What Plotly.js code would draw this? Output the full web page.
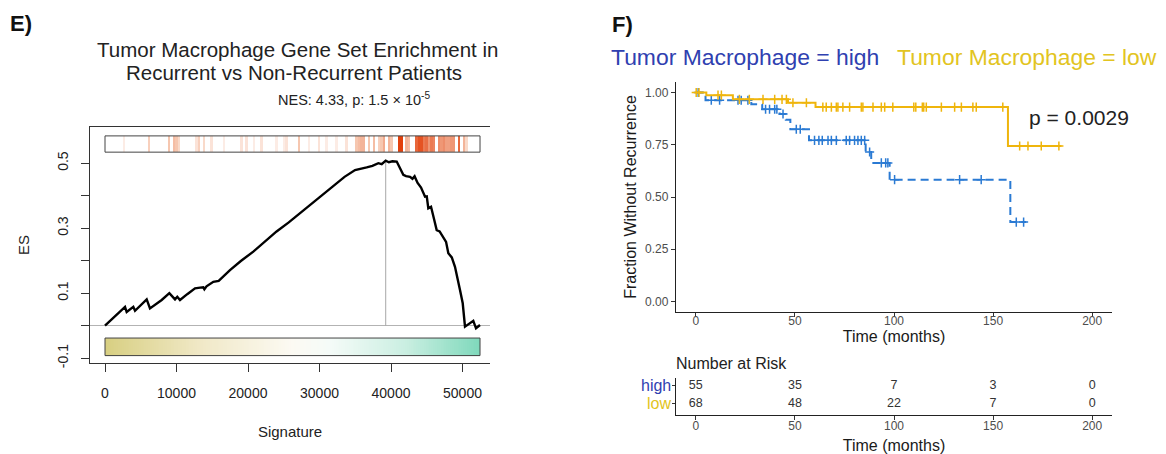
<!DOCTYPE html>
<html><head><meta charset="utf-8">
<script src="https://cdn.plot.ly/plotly-3.0.1.min.js"></script>
<style>html,body{margin:0;padding:0;background:#fff;} #chart{width:1166px;height:454px;}</style>
</head><body><div id="chart"></div>
<script>
// ================= Panel E : running enrichment score =================
const esPosition = [0,1500,2800,3030,3960,4200,5830,6290,7930,9000,9790,10110,10490,11500,12590,13300,13750,13900,14200,15150,15900,17480,19000,20740,22500,24000,25700,27270,29000,31000,32500,33500,34970,35800,36600,37400,38230,38700,39260,39700,40200,40800,41200,41720,42100,42660,43000,43300,43700,44200,44760,45000,45220,45600,46000,46390,46800,47320,47700,48020,48500,48950,49300,49650,50030,50200,50350,51510,51890,52450];
const esValue = [0,0.030,0.058,0.042,0.058,0.046,0.081,0.053,0.079,0.100,0.081,0.089,0.079,0.097,0.115,0.117,0.118,0.112,0.121,0.135,0.138,0.171,0.199,0.228,0.262,0.290,0.318,0.346,0.378,0.413,0.440,0.458,0.479,0.482,0.487,0.492,0.500,0.497,0.508,0.503,0.506,0.505,0.487,0.464,0.460,0.458,0.452,0.460,0.440,0.425,0.397,0.398,0.361,0.366,0.330,0.294,0.290,0.269,0.258,0.223,0.210,0.181,0.150,0.110,0.069,0.030,-0.003,0.015,-0.008,0.002];
// gene-set hits (barcode) : rank position and shading intensity
const hitPosition = [2797,6061,9091,9557,10023,10490,12821,13287,13986,14918,16783,19114,19814,20746,21911,24009,24942,25408,27273,28671,30070,31002,32401,33800,35198,35664,36037,36364,36830,37529,38228,38694,39161,39627,40093,41026,41352,41632,42191,42657,43497,43823,44149,44522,44988,45455,45828,46154,46620,47086,47413,47786,48252,48625,48951,49417,49650,50117,50583];
const hitWeight   = [0.10,0.25,0.30,0.35,0.30,0.20,0.15,0.25,0.20,0.15,0.10,0.15,0.15,0.10,0.15,0.10,0.10,0.15,0.30,0.10,0.15,0.10,0.10,0.15,0.30,0.35,0.40,0.40,0.30,0.35,0.25,0.30,0.45,0.40,0.30,1.00,1.00,0.85,0.40,0.35,0.80,0.90,0.90,0.70,0.75,0.55,0.70,0.65,0.60,0.55,0.60,0.50,0.50,0.55,0.55,0.80,0.75,0.40,0.20];
const signatureLength = 52450;
const esTickVals = [-0.1,0.1,0.3,0.5];
const esMinorTickVals = [0,0.2,0.4];
const sigTickVals = [0,10000,20000,30000,40000,50000];

// ================= Panel F : Kaplan-Meier =================
const highTime = [0,4.9,28.0,33.5,42.3,45.4,47.7,57.1,85.7,88.5,97.8,158.7,166.7];
const highSurv = [1,0.963,0.944,0.920,0.897,0.870,0.824,0.771,0.715,0.663,0.583,0.380,0.380];
const highCensor = [1.2,7.8,12.0,21.3,22.9,26.3,35.2,37.2,39.8,40.9,44.0,50.7,52.7,59.9,62.1,63.8,66.7,68.4,70.9,75.9,77.6,80.1,81.8,83.5,85.2,87.7,93.6,95.8,96.9,100.3,133.1,144.0,161.7,165.4];
const lowTime = [0,5.3,18.7,46.5,60.4,157.5,184.5];
const lowSurv = [1,0.987,0.967,0.951,0.930,0.744,0.744];
const lowCensor = [0.2,1.6,11.2,12.9,22.0,27.0,33.9,39.8,43.5,45.7,49.0,55.8,64.1,65.8,68.4,70.9,71.7,74.2,77.6,83.5,84.3,89.4,93.6,95.3,99.4,110.0,111.0,114.3,115.0,116.3,123.9,130.6,134.0,139.8,141.5,154.9,163.4,167.6,174.3,183.2];
const riskTimes = [0,50,100,150,200];
const riskHigh = [55,35,7,3,0];
const riskLow  = [68,48,22,7,0];
const riskGroups = ['low','high'];
const timeTicks = [0,50,100,150,200];
const survTicks = [0,0.25,0.5,0.75,1];

// ---------------- helpers ----------------
const W = 1166, H = 454;
const FONT = 'Liberation Sans, Arial, sans-serif';
const px = v => v / W;
const py = v => 1 - v / H;
function survAt(T, S, t){ let s = S[0]; for (let i=0;i<T.length;i++){ if (T[i] <= t) s = S[i]; } return s; }

const BLUE_LINE = '#2a7ad3', GOLD_LINE = '#efb50c';
const BLUE_TXT = '#2f40b0', GOLD_TXT = '#e2c421';

// barcode heatmap row
const binW = 350;
const nBins = Math.ceil(signatureLength / binW);
const barZ = new Array(nBins).fill(0);
hitPosition.forEach((p,i)=>{ const b = Math.min(nBins-1, Math.floor(p/binW)); barZ[b] = Math.max(barZ[b], hitWeight[i]); });
const barX = []; for (let i=0;i<=nBins;i++) barX.push(Math.min(signatureLength, i*binW));

// gradient bar
const nGrad = 200;
const gradZ = []; const gradX = [];
for (let i=0;i<nGrad;i++) gradZ.push(i/(nGrad-1));
for (let i=0;i<=nGrad;i++) gradX.push(signatureLength*i/nGrad);

const BAR_Y = [0.534, 0.584];
const GRAD_Y = [-0.092, -0.038];

// peak of ES
let pk = 0; esValue.forEach((v,i)=>{ if (v > esValue[pk]) pk = i; });

const traces = [
  {type:'heatmap', x:barX, y:BAR_Y, z:[barZ], xaxis:'x', yaxis:'y', showscale:false, hoverinfo:'skip', zmin:0, zmax:1,
   colorscale:[[0,'#ffffff'],[0.3,'#f6c7b0'],[1,'#e2400c']]},
  {type:'heatmap', x:gradX, y:GRAD_Y, z:[gradZ], xaxis:'x', yaxis:'y', showscale:false, hoverinfo:'skip', zmin:0, zmax:1,
   colorscale:[[0,'#d8cf82'],[0.25,'#f0e8c6'],[0.5,'#fcfaf3'],[0.6,'#f5fbf8'],[0.8,'#cbefe2'],[1,'#80d9bc']]},
  {type:'scatter', mode:'lines', x:[esPosition[pk], esPosition[pk]], y:[0, esValue[pk]], xaxis:'x', yaxis:'y',
   line:{color:'#a8a8a8', width:1}, hoverinfo:'skip', showlegend:false},
  {type:'scatter', mode:'lines', x:esPosition, y:esValue, xaxis:'x', yaxis:'y',
   line:{color:'#000000', width:2.4}, hoverinfo:'skip', showlegend:false},
  // KM
  {type:'scatter', mode:'lines', x:highTime, y:highSurv, xaxis:'x2', yaxis:'y2', line:{shape:'hv', color:BLUE_LINE, width:2, dash:'8px,5px'}, showlegend:false},
  {type:'scatter', mode:'markers', x:highCensor, y:highCensor.map(t=>survAt(highTime,highSurv,t)), xaxis:'x2', yaxis:'y2',
   marker:{symbol:'cross-thin', size:6.5, line:{color:BLUE_LINE, width:1.5}}, showlegend:false},
  {type:'scatter', mode:'lines', x:lowTime, y:lowSurv, xaxis:'x2', yaxis:'y2', line:{shape:'hv', color:GOLD_LINE, width:2}, showlegend:false},
  {type:'scatter', mode:'markers', x:lowCensor, y:lowCensor.map(t=>survAt(lowTime,lowSurv,t)), xaxis:'x2', yaxis:'y2',
   marker:{symbol:'cross-thin', size:6.5, line:{color:GOLD_LINE, width:1.5}}, showlegend:false},
  // risk table
  {type:'scatter', mode:'text', x:riskTimes, y:riskTimes.map(()=>2), text:riskHigh.map(String), xaxis:'x3', yaxis:'y3',
   textfont:{family:FONT, size:12.5, color:'#333'}, showlegend:false},
  {type:'scatter', mode:'text', x:riskTimes, y:riskTimes.map(()=>1), text:riskLow.map(String), xaxis:'x3', yaxis:'y3',
   textfont:{family:FONT, size:12.5, color:'#333'}, showlegend:false}
];

function ann(text, x, y, size, color, xanchor, extra){
  return Object.assign({text, x:px(x), y:py(y), xref:'paper', yref:'paper', xanchor:xanchor||'center', yanchor:'middle',
    showarrow:false, font:{family:FONT, size, color}}, extra||{});
}

const layout = {
  width:W, height:H, margin:{l:0,r:0,t:0,b:0}, paper_bgcolor:'#fff', plot_bgcolor:'rgba(0,0,0,0)',
  font:{family:FONT},
  showlegend:false,
  xaxis:{domain:[px(90), px(490)], range:[-2098, 53846], anchor:'y', tickvals:sigTickVals, ticktext:sigTickVals.map(String),
    ticks:'outside', ticklen:8, tickwidth:1, tickcolor:'#333', showline:true, linecolor:'#333', linewidth:1, mirror:true,
    showgrid:false, zeroline:false, tickfont:{size:14, color:'#222'}, ticklabelstandoff:9,
    title:{text:'Signature', font:{size:15, color:'#222'}, standoff:26}},
  yaxis:{domain:[py(363), py(127)], range:[-0.1148, 0.6114], anchor:'x', tickvals:esTickVals, ticktext:esTickVals.map(String),
    minor:{tickmode:'array', tickvals:esMinorTickVals, ticks:'outside', ticklen:8, tickwidth:1, tickcolor:'#333', showgrid:false},
    ticks:'outside', ticklen:8, tickwidth:1, tickcolor:'#333', showline:true, linecolor:'#333', linewidth:1,
    showgrid:false, zeroline:true, zerolinecolor:'#b3b3b3', zerolinewidth:1, tickangle:-90, tickfont:{size:14, color:'#222'},
    ticklabelstandoff:7,
    title:{text:'ES', font:{size:15, color:'#222'}, standoff:22}},
  xaxis2:{domain:[px(676), px(1112)], range:[-10, 210], anchor:'y2', tickvals:timeTicks, ticks:'outside', ticklen:4, tickwidth:1,
    tickcolor:'#333', showline:true, linecolor:'#222', linewidth:1.2, showgrid:false, zeroline:false, ticklabelstandoff:-7,
    tickfont:{size:12, color:'#4d4d4d'}, title:{text:'Time (months)', font:{size:16, color:'#1a1a1a'}, standoff:0}},
  yaxis2:{domain:[py(312), py(82)], range:[-0.05, 1.05], anchor:'x2', tickvals:survTicks, tickformat:'.2f', ticks:'outside', ticklen:4, tickwidth:1,
    tickcolor:'#333', showline:true, linecolor:'#222', linewidth:1.2, showgrid:false, zeroline:false,
    tickfont:{size:12, color:'#4d4d4d'}, title:{text:'Fraction Without Recurrence', font:{size:16, color:'#1a1a1a'}, standoff:4}},
  xaxis3:{domain:[px(676), px(1112)], range:[-10, 210], anchor:'y3', tickvals:timeTicks, ticks:'outside', ticklen:4, tickwidth:1,
    tickcolor:'#333', showline:true, linecolor:'#222', linewidth:1.2, showgrid:false, zeroline:false, ticklabelstandoff:-5,
    tickfont:{size:12, color:'#4d4d4d'}, title:{text:'Time (months)', font:{size:16, color:'#1a1a1a'}, standoff:8}},
  yaxis3:{domain:[py(415), py(378)], range:[0.4, 2.4], anchor:'x3', tickvals:[1,2], showticklabels:false,
    ticks:'outside', ticklen:3, tickwidth:1, tickcolor:'#333', showline:true, linecolor:'#222', linewidth:1.2,
    showgrid:false, zeroline:false},
  shapes:[
    {type:'rect', xref:'x', yref:'y', x0:0, x1:signatureLength, y0:BAR_Y[0], y1:BAR_Y[1], line:{color:'#444', width:1}},
    {type:'rect', xref:'x', yref:'y', x0:0, x1:signatureLength, y0:GRAD_Y[0], y1:GRAD_Y[1], line:{color:'#444', width:1}}
  ],
  annotations:[
    ann('E)', 8, 24, 22, '#111', 'left', {font:{family:FONT, size:22, color:'#111', weight:'bold'}}),
    ann('F)', 610, 25, 22, '#111', 'left', {font:{family:FONT, size:22, color:'#111', weight:'bold'}}),
    ann('Tumor Macrophage Gene Set Enrichment in', 297.5, 49, 20.5, '#222'),
    ann('Recurrent vs Non-Recurrent Patients', 294, 72, 20.5, '#222'),
    ann('NES: 4.33, p: 1.5 × 10<sup>-5</sup>', 354, 99, 14.5, '#222'),
    ann('Tumor Macrophage = high', 609, 57, 22.9, BLUE_TXT, 'left'),
    ann('Tumor Macrophage = low', 895, 57, 22.9, GOLD_TXT, 'left'),
    ann('p = 0.0029', 1027, 117, 21, '#222', 'left'),
    ann('Number at Risk', 674, 363, 16, '#222', 'left'),
    {text:riskGroups[1], x:px(673), xref:'paper', y:2, yref:'y3', xanchor:'right', yanchor:'middle', showarrow:false,
     font:{family:FONT, size:16, color:BLUE_TXT}},
    {text:riskGroups[0], x:px(673), xref:'paper', y:1, yref:'y3', xanchor:'right', yanchor:'middle', showarrow:false,
     font:{family:FONT, size:16, color:GOLD_TXT}}
  ]
};

Plotly.newPlot('chart', traces, layout, {displayModeBar:false, staticPlot:true});
</script>
</body></html>
